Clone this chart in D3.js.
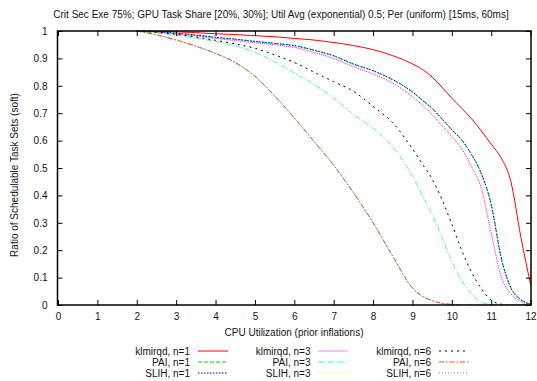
<!DOCTYPE html>
<html>
<head>
<meta charset="utf-8">
<script src="https://cdn.jsdelivr.net/npm/d3@7/dist/d3.min.js"></script>
<style>
  html, body { margin: 0; padding: 0; background: #fff; }
  svg { display: block; font-family: "Liberation Sans", Arial, Helvetica, sans-serif; }
</style>
</head>
<body>
<svg id="chart" width="537" height="381"></svg>
<script>
// CPU utilization (prior inflations) sample points
const utilization = [2, 2.5, 3, 3.5, 4, 4.5, 5, 5.5, 6, 6.5, 7, 7.5, 8, 8.5, 9,
  9.25, 9.5, 9.75, 10, 10.25, 10.5, 10.75, 11, 11.25, 11.5, 11.75, 12];

// Ratio of schedulable task sets (soft), one array per method / n
const klmirqdN1 = [1.0, 0.999, 0.997, 0.994, 0.99, 0.987, 0.983, 0.979, 0.973, 0.967, 0.958, 0.947, 0.932, 0.91, 0.88,
  0.86, 0.832, 0.795, 0.755, 0.718, 0.68, 0.635, 0.587, 0.537, 0.45, 0.25, 0.075];
const paiN1 = [1.0, 0.997, 0.992, 0.985, 0.977, 0.97, 0.962, 0.955, 0.947, 0.93, 0.91, 0.88, 0.855, 0.823, 0.778,
  0.748, 0.718, 0.68, 0.64, 0.603, 0.55, 0.48, 0.368, 0.175, 0.063, 0.02, 0.003];
const slihN1 = [1.0, 0.997, 0.992, 0.985, 0.977, 0.97, 0.962, 0.955, 0.946, 0.93, 0.909, 0.879, 0.855, 0.822, 0.777,
  0.747, 0.717, 0.679, 0.639, 0.602, 0.549, 0.478, 0.366, 0.174, 0.062, 0.02, 0.003];
const klmirqdN3 = [1.0, 0.996, 0.99, 0.982, 0.973, 0.965, 0.957, 0.95, 0.94, 0.922, 0.9, 0.87, 0.843, 0.81, 0.76,
  0.73, 0.695, 0.655, 0.615, 0.57, 0.505, 0.425, 0.262, 0.105, 0.04, 0.013, 0.002];
const paiN3 = [1.0, 0.993, 0.985, 0.974, 0.962, 0.946, 0.922, 0.888, 0.847, 0.805, 0.755, 0.695, 0.645, 0.577, 0.47,
  0.4, 0.33, 0.245, 0.16, 0.09, 0.04, 0.01, 0.002, 0, 0, 0, 0];
const slihN3 = [1.0, 0.993, 0.985, 0.974, 0.962, 0.946, 0.922, 0.888, 0.847, 0.805, 0.754, 0.694, 0.644, 0.576, 0.469,
  0.399, 0.329, 0.244, 0.159, 0.089, 0.04, 0.01, 0.002, 0, 0, 0, 0];
const klmirqdN6 = [1.0, 0.995, 0.988, 0.978, 0.966, 0.953, 0.937, 0.913, 0.885, 0.85, 0.815, 0.78, 0.725, 0.665, 0.57,
  0.515, 0.46, 0.385, 0.295, 0.2, 0.12, 0.06, 0.018, 0.003, 0, 0, 0];
const paiN6 = [1.0, 0.986, 0.967, 0.945, 0.918, 0.885, 0.835, 0.763, 0.683, 0.597, 0.51, 0.41, 0.3, 0.178, 0.062,
  0.032, 0.016, 0.006, 0.002, 0, 0, 0, 0, 0, 0, 0, 0];
const slihN6 = [1.0, 0.986, 0.967, 0.945, 0.918, 0.885, 0.835, 0.763, 0.683, 0.597, 0.51, 0.41, 0.3, 0.178, 0.062,
  0.032, 0.016, 0.006, 0.002, 0, 0, 0, 0, 0, 0, 0, 0];

// Axis ticks
const xTicks = [0, 1, 2, 3, 4, 5, 6, 7, 8, 9, 10, 11, 12];
const yTicks = [0, 0.1, 0.2, 0.3, 0.4, 0.5, 0.6, 0.7, 0.8, 0.9, 1];

const seriesNames = ["klmirqd, n=1", "PAI, n=1", "SLIH, n=1",
  "klmirqd, n=3", "PAI, n=3", "SLIH, n=3",
  "klmirqd, n=6", "PAI, n=6", "SLIH, n=6"];
const seriesValues = [klmirqdN1, paiN1, slihN1, klmirqdN3, paiN3, slihN3, klmirqdN6, paiN6, slihN6];
const seriesColors = ["#ff0000", "#00e000", "#0000ff", "#ff00ff", "#00ffff", "#ffff00", "#000000", "#ff4d00", "#808080"];
const seriesDashes = [null, "4,2", "1.5,1.5", "1,1", "5,2,1,2", "1,2", "2,4", "5,2,1.5,2", "1,2"];

const titleText = "Crit Sec Exe 75%; GPU Task Share [20%, 30%]; Util Avg (exponential) 0.5; Per (uniform) [15ms, 60ms]";
const xLabel = "CPU Utilization (prior inflations)";
const yLabel = "Ratio of Schedulable Task Sets (soft)";

const svg = d3.select("#chart");
const plot = { left: 57.5, right: 531, top: 31, bottom: 305 };

const x = d3.scaleLinear().domain([0, 12]).range([58, 530.6]);
const y = d3.scaleLinear().domain([0, 1]).range([plot.bottom, plot.top]);

// Title
svg.append("text")
  .attr("x", 281).attr("y", 18)
  .attr("text-anchor", "middle")
  .attr("font-size", 10)
  .attr("fill", "#111")
  .text(titleText);

// Curves (clipped to the plot frame)
svg.append("clipPath").attr("id", "plotclip")
  .append("rect")
  .attr("x", plot.left).attr("y", plot.top - 2)
  .attr("width", plot.right - plot.left + 1).attr("height", plot.bottom - plot.top + 2);

const line = d3.line()
  .x(d => x(d[0]))
  .y(d => y(d[1]))
  .curve(d3.curveMonotoneX);

const curves = svg.append("g").attr("clip-path", "url(#plotclip)");
seriesValues.forEach((vals, i) => {
  const pts = utilization.map((u, k) => [u, vals[k]]);
  curves.append("path")
    .attr("d", line(pts))
    .attr("fill", "none")
    .attr("stroke", seriesColors[i])
    .attr("stroke-width", 1)
    .attr("stroke-dasharray", seriesDashes[i]);
});

// Axes with inward ticks, mirrored on top and right
const tickLen = 5;
const axisBottom = d3.axisBottom(x).tickValues(xTicks).tickFormat(d3.format("d"))
  .tickSizeInner(-tickLen).tickSizeOuter(0).tickPadding(8);
const axisTop = d3.axisTop(x).tickValues(xTicks).tickFormat("")
  .tickSizeInner(-tickLen).tickSizeOuter(0);
const axisLeft = d3.axisLeft(y).tickValues(yTicks).tickFormat(d => d === 0 || d === 1 ? d3.format("d")(d) : d3.format(".1f")(d))
  .tickSizeInner(-tickLen).tickSizeOuter(0).tickPadding(10);
const axisRight = d3.axisRight(y).tickValues(yTicks).tickFormat("")
  .tickSizeInner(-tickLen).tickSizeOuter(0);

function styleAxis(g) {
  g.select(".domain").remove();
  g.selectAll(".tick line").attr("stroke", "#000").attr("stroke-width", 1);
  g.selectAll(".tick text").attr("fill", "#111").attr("font-size", 10)
    .attr("font-family", "Liberation Sans, Arial, sans-serif");
}

svg.append("g").attr("transform", `translate(0,${plot.bottom})`).call(axisBottom).call(styleAxis);
svg.append("g").attr("transform", `translate(0,${plot.top})`).call(axisTop).call(styleAxis);
svg.append("g").attr("transform", `translate(${plot.left},0)`).call(axisLeft).call(styleAxis);
svg.append("g").attr("transform", `translate(${plot.right},0)`).call(axisRight).call(styleAxis);

// Plot frame
svg.append("rect")
  .attr("x", plot.left).attr("y", plot.top)
  .attr("width", plot.right - plot.left).attr("height", plot.bottom - plot.top)
  .attr("fill", "none").attr("stroke", "#000").attr("stroke-width", 1.5);

// Axis titles
svg.append("text")
  .attr("x", 294).attr("y", 336)
  .attr("text-anchor", "middle").attr("font-size", 10).attr("fill", "#111")
  .text(xLabel);
svg.append("text")
  .attr("transform", "translate(18,175) rotate(-90)")
  .attr("text-anchor", "middle").attr("font-size", 10).attr("fill", "#111")
  .text(yLabel);

// Legend: three columns of three rows
const legendCols = [190, 310.5, 431];
const legendRows = [351, 362, 373];
seriesNames.forEach((name, i) => {
  const col = Math.floor(i / 3), row = i % 3;
  const tx = legendCols[col], ty = legendRows[row];
  svg.append("text")
    .attr("x", tx).attr("y", ty + 3.5)
    .attr("text-anchor", "end").attr("font-size", 10).attr("fill", "#111")
    .text(name);
  svg.append("line")
    .attr("x1", tx + 8).attr("x2", tx + 38)
    .attr("y1", ty).attr("y2", ty)
    .attr("stroke", seriesColors[i]).attr("stroke-width", 1)
    .attr("stroke-dasharray", seriesDashes[i]);
});
</script>
</body>
</html>
